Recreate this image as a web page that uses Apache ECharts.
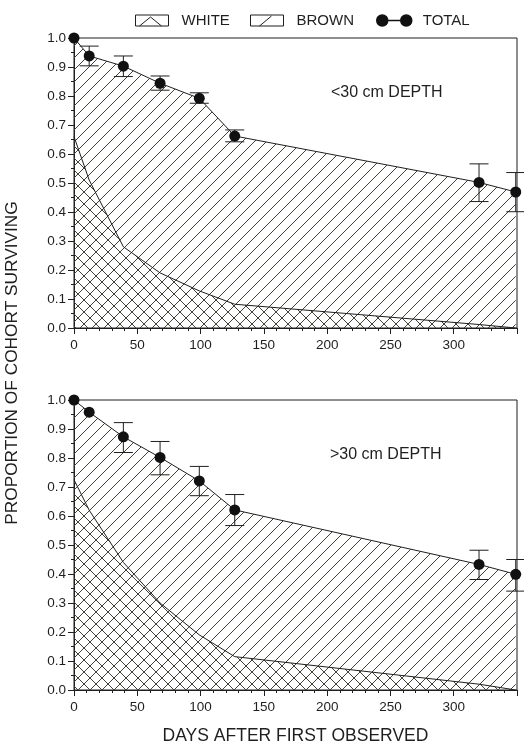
<!DOCTYPE html>
<html>
<head>
<meta charset="utf-8">
<script src="https://cdn.jsdelivr.net/npm/echarts@6/dist/echarts.min.js"></script>
<style>
  html, body { margin: 0; padding: 0; background: #ffffff; }
  #chart { width: 524px; height: 746px; }
</style>
</head>
<body>
<div id="chart"></div>
<script>
// Sampling days after the cohort was first observed
const days = [0, 12, 39, 68, 99, 127, 320, 349];

// Shallow roots (< 30 cm depth)
const shallowTotal = [1.0, 0.938, 0.903, 0.844, 0.792, 0.662, 0.502, 0.469];
const shallowLow   = [null, 0.904, 0.867, 0.820, 0.775, 0.642, 0.436, 0.401];
const shallowHigh  = [null, 0.972, 0.938, 0.869, 0.811, 0.683, 0.566, 0.536];
const shallowWhite = [0.66, 0.51, 0.28, 0.19, 0.128, 0.082, 0.012, 0.0];

// Deep roots (> 30 cm depth)
const deepTotal = [1.0, 0.958, 0.873, 0.802, 0.721, 0.621, 0.433, 0.399];
const deepLow   = [null, null, 0.819, 0.742, 0.670, 0.567, 0.381, 0.341];
const deepHigh  = [null, null, 0.922, 0.857, 0.771, 0.674, 0.482, 0.450];
const deepWhite = [0.725, 0.62, 0.44, 0.30, 0.19, 0.115, 0.02, 0.0];

// Axis ticks
const dayTicks = [0, 50, 100, 150, 200, 250, 300];
const propTicks = [0.0, 0.1, 0.2, 0.3, 0.4, 0.5, 0.6, 0.7, 0.8, 0.9, 1.0];

const INK = '#1f1f1f';
const HATCH = '#3f4236';
const FONT = '"Liberation Sans", Arial, sans-serif';

// Diagonal hatch tile: dir = 1 for "/", -1 for "\"
function hatch(dir) {
  const s = 12;
  const c = document.createElement('canvas');
  c.width = s; c.height = s;
  const g = c.getContext('2d');
  g.strokeStyle = HATCH;
  g.lineWidth = 1;
  g.beginPath();
  for (const k of [-s, 0, s]) {
    if (dir > 0) { g.moveTo(k, s); g.lineTo(k + s, 0); }
    else { g.moveTo(k, 0); g.lineTo(k + s, s); }
  }
  g.stroke();
  return { image: c, repeat: 'repeat' };
}
const slashFill = hatch(1);
const backFill = hatch(-1);

const pairs = (xs, ys) => xs.map((x, i) => [x, ys[i]]);
const bars = (xs, lo, hi) => xs.map((x, i) => [x, lo[i], hi[i]]).filter(d => d[1] != null);

function errorBarItem(params, api) {
  const x = api.value(0);
  const lo = api.coord([x, api.value(1)]);
  const hi = api.coord([x, api.value(2)]);
  const w = 9.5;
  const st = { stroke: INK, lineWidth: 1 };
  return {
    type: 'group',
    children: [
      { type: 'line', shape: { x1: lo[0], y1: lo[1], x2: hi[0], y2: hi[1] }, style: st },
      { type: 'line', shape: { x1: hi[0] - w, y1: hi[1], x2: hi[0] + w, y2: hi[1] }, style: st },
      { type: 'line', shape: { x1: lo[0] - w, y1: lo[1], x2: lo[0] + w, y2: lo[1] }, style: st }
    ]
  };
}

function panelSeries(idx, total, white, lo, hi) {
  return [
    {
      name: 'BROWN', type: 'line', xAxisIndex: idx, yAxisIndex: idx,
      data: pairs(days, total), symbol: 'none', z: 1,
      lineStyle: { color: INK, width: 1 }, itemStyle: { color: INK },
      areaStyle: { color: slashFill, opacity: 1 }
    },
    {
      name: 'WHITE', type: 'line', xAxisIndex: idx, yAxisIndex: idx,
      data: pairs(days, white), symbol: 'none', z: 2,
      lineStyle: { color: INK, width: 1 }, itemStyle: { color: INK },
      areaStyle: { color: backFill, opacity: 1 }
    },
    {
      name: 'TOTAL', type: 'custom', xAxisIndex: idx, yAxisIndex: idx,
      data: bars(days, lo, hi), renderItem: errorBarItem, clip: false, z: 3,
      itemStyle: { color: INK }
    },
    {
      name: 'TOTAL', type: 'line', xAxisIndex: idx, yAxisIndex: idx,
      data: pairs(days, total), symbol: 'circle', symbolSize: 11, z: 4,
      lineStyle: { width: 0 }, itemStyle: { color: '#111111' }
    }
  ];
}

function xAxis(idx, withName) {
  const ax = {
    type: 'value', gridIndex: idx, min: 0, max: 350, interval: 50,
    axisLine: { lineStyle: { color: INK, width: 1 } },
    axisTick: { length: 6, lineStyle: { color: INK } },
    minorTick: { show: true, splitNumber: 5, length: 3, lineStyle: { color: INK } },
    splitLine: { show: false },
    axisLabel: {
      color: INK, fontSize: 13.5, fontFamily: FONT, margin: 10, showMaxLabel: false,
      formatter: v => (dayTicks.includes(v) ? String(v) : '')
    }
  };
  if (withName) {
    Object.assign(ax, {
      name: 'DAYS AFTER FIRST OBSERVED', nameLocation: 'middle', nameGap: 37,
      nameTextStyle: { color: INK, fontSize: 17.5, fontFamily: FONT }
    });
  }
  return ax;
}

function yAxis(idx) {
  return {
    type: 'value', gridIndex: idx, min: 0, max: 1, interval: 0.1,
    axisLine: { show: true, lineStyle: { color: INK, width: 1 } },
    axisTick: { show: true, length: 6, lineStyle: { color: INK } },
    minorTick: { show: true, splitNumber: 2, length: 3, lineStyle: { color: INK } },
    splitLine: { show: false },
    axisLabel: {
      color: INK, fontSize: 13.5, fontFamily: FONT, margin: 8,
      formatter: v => {
        const t = propTicks.find(p => Math.abs(p - v) < 1e-6);
        return t === undefined ? '' : t.toFixed(1);
      }
    }
  };
}

const boxIcon = d => 'path://M0 0 L33 0 L33 11 L0 11 Z ' + d;
const legendText = { color: INK, fontSize: 15, fontFamily: FONT, padding: [0, 0, 0, 8] };
const legendBase = { top: 8, itemWidth: 33, itemHeight: 11, selectedMode: false, textStyle: legendText };

const chart = echarts.init(document.getElementById('chart'), null, { renderer: 'canvas' });
chart.setOption({
  animation: false,
  backgroundColor: '#ffffff',
  legend: [
    Object.assign({}, legendBase, {
      left: 130,
      data: [{ name: 'WHITE', icon: boxIcon('M4 11 L15 2 L26 11'),
               itemStyle: { color: 'transparent', borderColor: INK, borderWidth: 1 } }]
    }),
    Object.assign({}, legendBase, {
      left: 245,
      data: [{ name: 'BROWN', icon: boxIcon('M9 11 L21 1'),
               itemStyle: { color: 'transparent', borderColor: INK, borderWidth: 1 } }]
    }),
    Object.assign({}, legendBase, {
      left: 371, itemWidth: 35,
      textStyle: Object.assign({}, legendText, { padding: [0, 0, 0, 6] }),
      data: [{ name: 'TOTAL',
               icon: 'path://M0 5.5 A5.5 5.5 0 1 1 11 5.5 A5.5 5.5 0 1 1 0 5.5 Z M24 5.5 A5.5 5.5 0 1 1 35 5.5 A5.5 5.5 0 1 1 24 5.5 Z M5.5 5.5 L29.5 5.5',
               itemStyle: { color: '#111111', borderColor: '#111111', borderWidth: 1.5 } }]
    })
  ],
  grid: [
    { left: 74, top: 38, width: 443, height: 290, show: true, borderColor: INK, borderWidth: 1, backgroundColor: 'transparent' },
    { left: 74, top: 400, width: 443, height: 291, show: true, borderColor: INK, borderWidth: 1, backgroundColor: 'transparent' }
  ],
  xAxis: [xAxis(0, false), xAxis(1, true)],
  yAxis: [yAxis(0), yAxis(1)],
  graphic: [
    {
      type: 'text', x: 12, y: 363, rotation: Math.PI / 2,
      style: { text: 'PROPORTION OF COHORT SURVIVING', fill: INK, font: '17.3px ' + FONT,
               textAlign: 'center', textVerticalAlign: 'middle' }
    },
    {
      type: 'text', x: 331, y: 92.5,
      style: { text: '<30 cm DEPTH', fill: INK, font: '16px ' + FONT, textAlign: 'left', textVerticalAlign: 'middle' }
    },
    {
      type: 'text', x: 330, y: 455,
      style: { text: '>30 cm DEPTH', fill: INK, font: '16px ' + FONT, textAlign: 'left', textVerticalAlign: 'middle' }
    }
  ],
  series: [].concat(
    panelSeries(0, shallowTotal, shallowWhite, shallowLow, shallowHigh),
    panelSeries(1, deepTotal, deepWhite, deepLow, deepHigh)
  )
});
</script>
</body>
</html>
